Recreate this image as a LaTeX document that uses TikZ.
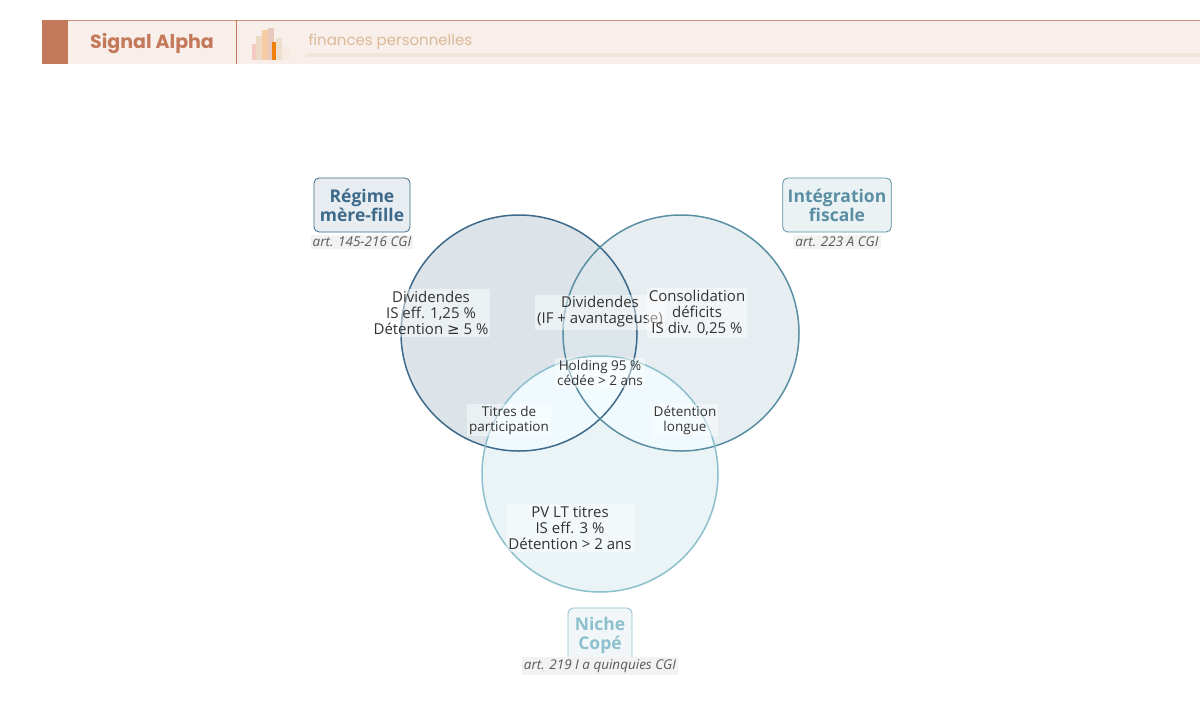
\documentclass[tikz,border=0pt]{standalone}
\usepackage{fontspec}
\setmainfont{Open Sans}
\newfontfamily\pop{Poppins}
\newfontfamily\djv{DejaVu Sans}
\begin{document}
\begin{tikzpicture}[x=1pt,y=-1pt,
 lbl/.style={fill=white,fill opacity=0.45,text opacity=1,align=center,font=\fontsize{15}{16}\selectfont,text=black!80,inner sep=2pt},
 sml/.style={lbl,font=\fontsize{13.5}{15}\selectfont},
 cat/.style={draw=#1,fill=#1!12,text=#1,rounded corners=5pt,line width=0.8pt,align=center,font=\bfseries\fontsize{17.5}{19}\selectfont,inner sep=5pt,minimum width=96pt,minimum height=54pt},
 ref/.style={fill=black!5,text=black!65,font=\itshape\fontsize{13.5}{15}\selectfont,inner sep=2pt}]
\definecolor{ca}{HTML}{3D6A8A}\definecolor{cb}{HTML}{5A8FA3}\definecolor{cc}{HTML}{8CC0CC}
\definecolor{cor}{HTML}{C47A5A}
\useasboundingbox (0,0) rectangle (1200,721);
\fill[white] (0,0) rectangle (1200,721);
% header
\fill[cor!12] (42,20) rectangle (1200,64);
\draw[cor!80,line width=0.8pt] (42,20) -- (1200,20);
\fill[cor] (42,20) rectangle (68,64);
\draw[cor,line width=0.8pt] (236,20) -- (236,64);
\node[font=\pop\bfseries\fontsize{19}{21}\selectfont,text=cor] (title) at (152,43) {Signal Alpha};
\fill[red!40!cor!30] (252,44) rectangle (258,60);
\fill[brown!30] (256,36) rectangle (262,60);
\fill[orange!60!brown!40] (262,30) rectangle (268,60);
\fill[cor!40] (268,28) rectangle (274,60);
\fill[orange!80!brown] (272,42) rectangle (276,60);
\fill[brown!25] (276,38) rectangle (282,60);
\fill[brown!15] (282,46) rectangle (290,60);
\fill[brown!20!white] (307,53) rectangle (1200,57);
\node[anchor=west,font=\pop\fontsize{15}{16}\selectfont,text=brown!55] (sub) at (305,42) {finances personnelles};
% circles
\def\A{(519,333) circle (118)}\def\B{(681,333) circle (118)}\def\C{(600,474) circle (118)}
\fill[ca!18] \A; \fill[cb!15] \B; \fill[cc!18] \C;
\begin{scope}\clip \A; \fill[cb!10!white!90!ca] \B; \end{scope}
\begin{scope}\clip \A; \fill[cyan!6] \C; \end{scope}
\begin{scope}\clip \B; \fill[cyan!6] \C; \end{scope}
\begin{scope}\clip \A; \clip \B; \fill[cyan!5] \C; \end{scope}
\draw[ca,line width=1.5pt] \A; \draw[cb,line width=1.5pt] \B; \draw[cc,line width=1.5pt] \C;
% category labels
\node[cat=ca] (na) at (362,205) {Régime\\mère-fille};
\node[ref] (ra) at (362,242) {art. 145-216 CGI};
\node[cat=cb,minimum width=106pt] (nb) at (837,205) {Intégration\\fiscale};
\node[ref] (rb) at (837,242) {art. 223 A CGI};
\node[cat=cc,minimum width=64pt] (nc) at (600,635) {Niche\\Copé};
\node[ref] (rc) at (600,666) {art. 219 I a quinquies CGI};
% region labels
\node[lbl] (l1) at (431,313) {Dividendes\\IS eff. 1,25 \%\\Détention {\djv ≥} 5 \%};
\node[lbl] (l2) at (600,312) {Dividendes\\(IF + avantageuse)};
\node[lbl] (l3) at (697,313) {Consolidation\\déficits\\IS div. 0,25 \%};
\node[sml] (l4) at (600,373) {Holding 95 \%\\cédée > 2 ans};
\node[sml] (l5) at (509,420) {Titres de\\participation};
\node[sml] (l6) at (685,420) {Détention\\longue};
\node[lbl] (l7) at (570,528) {PV LT titres\\IS eff. 3 \%\\Détention > 2 ans};
\end{tikzpicture}
\end{document}
